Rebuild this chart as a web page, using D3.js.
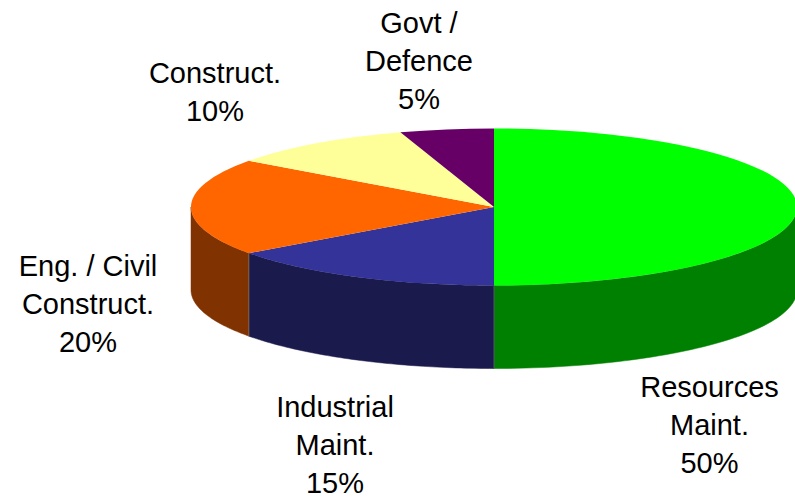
<!DOCTYPE html>
<html>
<head>
<meta charset="utf-8">
<style>
  html, body { margin: 0; padding: 0; background: #fff; }
  svg { display: block; }
  text { font-family: "Liberation Sans", Arial, sans-serif; font-size: 29px; fill: #000; }
</style>
<script src="https://d3js.org/d3.v7.min.js"></script>
</head>
<body>
<svg id="chart" width="795" height="500"></svg>
<script>
// Sector shares, in drawing order clockwise from twelve o'clock
const categories = [
  ["Resources", "Maint."],
  ["Industrial", "Maint."],
  ["Eng. / Civil", "Construct."],
  ["Construct."],
  ["Govt /", "Defence"]
];
const shares = [50, 15, 20, 10, 5];
const topColours = ["#00ff00", "#333399", "#ff6600", "#ffff99", "#660066"];
const wallColours = ["#008000", "#1a1a4d", "#803300", "#808040", "#330033"];

// Label block centres and first baselines
const labelX = [709.5, 335, 88, 215, 419];
const labelY = [397, 417, 276, 83, 33];
const lineGap = 38;

const cx = 494, cy = 207, rx = 303, ry = 78.5, depth = 83;

const svg = d3.select("#chart");
const slices = d3.pie().sort(null).value(d => d)(shares);

// Map a clockwise-from-top angle onto the tilted ellipse
const px = a => cx + rx * Math.sin(a);
const py = a => cy - ry * Math.cos(a);

const line = d3.line();

// Side walls: only the part of each slice facing the viewer (90deg to 270deg)
slices.forEach((s, i) => {
  const a0 = Math.max(s.startAngle, Math.PI / 2);
  const a1 = Math.min(s.endAngle, 3 * Math.PI / 2);
  if (a1 <= a0) return;
  const rim = d3.range(0, 61).map(k => a0 + (a1 - a0) * k / 60);
  const pts = rim.map(a => [px(a), py(a)])
    .concat(rim.slice().reverse().map(a => [px(a), py(a) + depth]));
  svg.append("path")
    .attr("d", line(pts) + "Z")
    .attr("fill", wallColours[i])
    .attr("stroke", wallColours[i])
    .attr("stroke-width", 0.5);
});

// Faint seams where the walls meet
[slices[0].endAngle, slices[1].endAngle].forEach(a => {
  svg.append("line")
    .attr("x1", px(a)).attr("y1", py(a))
    .attr("x2", px(a)).attr("y2", py(a) + depth)
    .attr("stroke", "#7f7f7f").attr("stroke-opacity", 0.6).attr("stroke-width", 1);
});

// Top face: a unit pie squashed into the ellipse
const arc = d3.arc().innerRadius(0).outerRadius(1);
svg.append("g")
  .attr("transform", `translate(${cx},${cy}) scale(${rx},${ry})`)
  .selectAll("path")
  .data(slices)
  .join("path")
  .attr("d", arc)
  .attr("fill", (d, i) => topColours[i]);

// Labels: category lines followed by the share
const labels = svg.append("g").attr("text-anchor", "middle");
categories.forEach((lines, i) => {
  const t = labels.append("text");
  lines.concat(shares[i] + "%").forEach((txt, k) => {
    t.append("tspan")
      .attr("x", labelX[i])
      .attr("y", labelY[i] + k * lineGap)
      .text(txt);
  });
});
</script>
</body>
</html>
